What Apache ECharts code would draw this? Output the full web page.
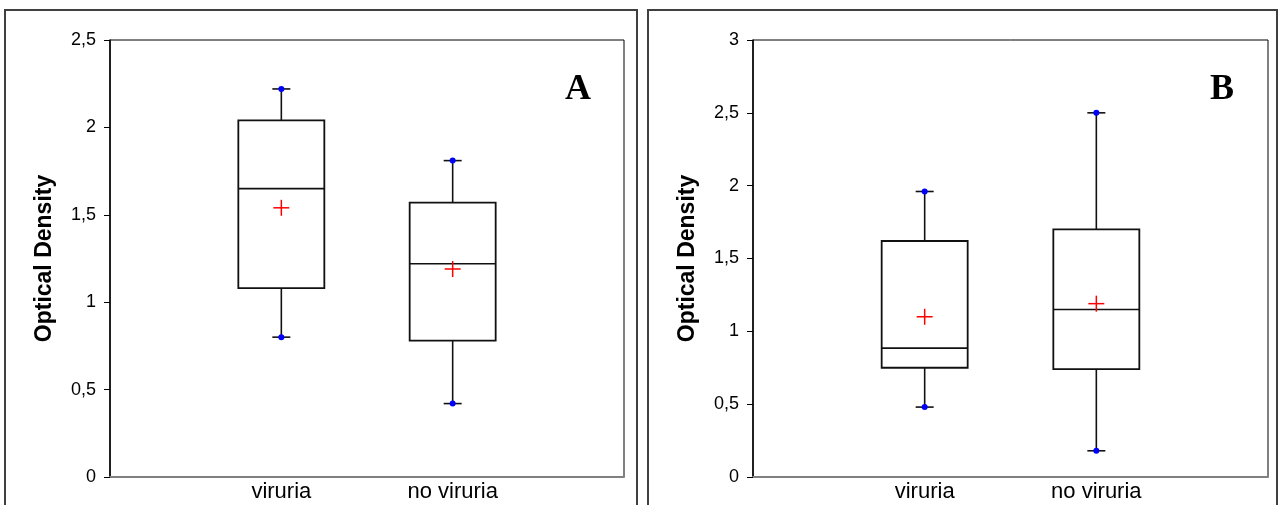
<!DOCTYPE html>
<html>
<head>
<meta charset="utf-8">
<script src="https://cdn.jsdelivr.net/npm/echarts@6/dist/echarts.min.js"></script>
<style>html,body{margin:0;padding:0;background:#fff;}#c{width:1279px;height:505px;}</style>
</head>
<body>
<div id="c"></div>
<script>
// ---- data ----
var categories = ['viruria', 'no viruria'];
// Panel A
var aMin    = [0.80, 0.42];
var aQ1     = [1.08, 0.78];
var aMedian = [1.65, 1.22];
var aQ3     = [2.04, 1.57];
var aMax    = [2.22, 1.81];
var aMean   = [1.54, 1.19];
// Panel B
var bMin    = [0.48, 0.18];
var bQ1     = [0.75, 0.74];
var bMedian = [0.885, 1.15];
var bQ3     = [1.62, 1.70];
var bMax    = [1.96, 2.50];
var bMean   = [1.10, 1.19];
var yTicksA = { min: 0, max: 2.5, interval: 0.5 };
var yTicksB = { min: 0, max: 3, interval: 0.5 };
var axisTitle = 'Optical Density';
var panelLabels = ['A', 'B'];

function boxData(mn, q1, md, q3, mx, mean) {
  return categories.map(function (c, i) {
    return [i + 1, mn[i], q1[i], md[i], q3[i], mx[i], mean[i]];
  });
}

var FONT = '"Liberation Sans", Arial, sans-serif';

function renderBox(params, api) {
  var x = api.value(0);
  var pMin = api.coord([x, api.value(1)]);
  var pQ1 = api.coord([x, api.value(2)]);
  var pMd = api.coord([x, api.value(3)]);
  var pQ3 = api.coord([x, api.value(4)]);
  var pMax = api.coord([x, api.value(5)]);
  var pMean = api.coord([x, api.value(6)]);
  var cx = pMd[0];
  var bw = 86, cw = 18, ps = 8;
  var ln = { stroke: '#111', lineWidth: 1.6 };
  return {
    type: 'group',
    children: [
      { type: 'line', shape: { x1: cx, y1: pQ3[1], x2: cx, y2: pMax[1] }, style: ln },
      { type: 'line', shape: { x1: cx, y1: pQ1[1], x2: cx, y2: pMin[1] }, style: ln },
      { type: 'line', shape: { x1: cx - cw / 2, y1: pMax[1], x2: cx + cw / 2, y2: pMax[1] }, style: ln },
      { type: 'line', shape: { x1: cx - cw / 2, y1: pMin[1], x2: cx + cw / 2, y2: pMin[1] }, style: ln },
      { type: 'rect', shape: { x: cx - bw / 2, y: pQ3[1], width: bw, height: pQ1[1] - pQ3[1] }, style: { fill: 'none', stroke: '#111', lineWidth: 1.8 } },
      { type: 'line', shape: { x1: cx - bw / 2, y1: pMd[1], x2: cx + bw / 2, y2: pMd[1] }, style: ln },
      { type: 'circle', shape: { cx: cx, cy: pMax[1], r: 3 }, style: { fill: '#0000ff' } },
      { type: 'circle', shape: { cx: cx, cy: pMin[1], r: 3 }, style: { fill: '#0000ff' } },
      { type: 'line', shape: { x1: cx - ps, y1: pMean[1], x2: cx + ps, y2: pMean[1] }, style: { stroke: '#ff0000', lineWidth: 1.5 } },
      { type: 'line', shape: { x1: cx, y1: pMean[1] - ps, x2: cx, y2: pMean[1] + ps }, style: { stroke: '#ff0000', lineWidth: 1.5 } }
    ]
  };
}

function xAxisCfg(gi) {
  return {
    type: 'category', gridIndex: gi, boundaryGap: false,
    data: [''].concat(categories).concat(['']),
    axisLine: { lineStyle: { color: '#808080', width: 2 } },
    axisTick: { show: false },
    splitLine: { show: false },
    axisLabel: { color: '#000', fontFamily: FONT, fontSize: 22, margin: 4, interval: 0 }
  };
}
function yAxisCfg(gi, t) {
  return {
    type: 'value', gridIndex: gi, min: t.min, max: t.max, interval: t.interval,
    name: axisTitle, nameLocation: 'middle', nameRotate: 90, nameGap: 54,
    nameTextStyle: { color: '#000', fontFamily: FONT, fontSize: 23, fontWeight: 'bold' },
    axisLine: { show: true, lineStyle: { color: '#000', width: 1.5 } },
    axisTick: { show: true, length: 6, lineStyle: { color: '#000' } },
    splitLine: { show: false },
    axisLabel: { color: '#000', fontFamily: FONT, fontSize: 18, margin: 14,
      formatter: function (v) { return String(v).replace('.', ','); } }
  };
}

var chart = echarts.init(document.getElementById('c'));
chart.setOption({
  backgroundColor: '#fff',
  animation: false,
  grid: [
    { left: 110, top: 40, width: 514, height: 437, show: true, borderColor: '#000', borderWidth: 1, containLabel: false },
    { left: 753, top: 40, width: 515, height: 437, show: true, borderColor: '#000', borderWidth: 1, containLabel: false }
  ],
  xAxis: [xAxisCfg(0), xAxisCfg(1)],
  yAxis: [yAxisCfg(0, yTicksA), yAxisCfg(1, yTicksB)],
  series: [
    { type: 'custom', xAxisIndex: 0, yAxisIndex: 0, renderItem: renderBox,
      data: boxData(aMin, aQ1, aMedian, aQ3, aMax, aMean), z: 5 },
    { type: 'custom', xAxisIndex: 1, yAxisIndex: 1, renderItem: renderBox,
      data: boxData(bMin, bQ1, bMedian, bQ3, bMax, bMean), z: 5 }
  ],
  graphic: [
    { type: 'rect', shape: { x: 5, y: 10, width: 632, height: 510 }, style: { fill: 'none', stroke: '#404040', lineWidth: 2 }, z: 1 },
    { type: 'rect', shape: { x: 648, y: 10, width: 629, height: 510 }, style: { fill: 'none', stroke: '#404040', lineWidth: 2 }, z: 1 },
    { type: 'text', x: 578, y: 90, style: { text: panelLabels[0], font: 'bold 36px "Liberation Serif", "Times New Roman", serif', fill: '#000', textAlign: 'center', textVerticalAlign: 'middle' }, z: 10 },
    { type: 'text', x: 1222, y: 90, style: { text: panelLabels[1], font: 'bold 36px "Liberation Serif", "Times New Roman", serif', fill: '#000', textAlign: 'center', textVerticalAlign: 'middle' }, z: 10 }
  ]
});
</script>
</body>
</html>
